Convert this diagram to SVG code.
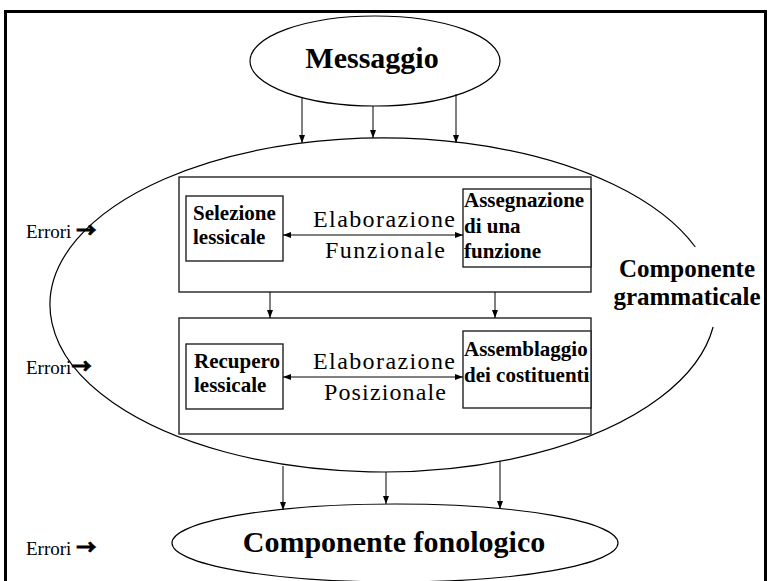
<svg xmlns="http://www.w3.org/2000/svg" width="769" height="581" viewBox="0 0 769 581">
<defs>
<style>
.t{font-family:"Liberation Serif","Times New Roman",serif;fill:#000}
.b{font-weight:bold}
.shape{fill:none;stroke:#000;stroke-width:1.2}
.box{fill:#fff;stroke:#222;stroke-width:1.4}
.conn{fill:none;stroke:#000;stroke-width:1}
.arr{font-family:"Noto Sans CJK SC","DejaVu Sans",sans-serif;font-weight:bold;stroke:#000;stroke-width:0.9}
</style>
<marker id="ah" markerWidth="8" markerHeight="6" refX="8" refY="3" orient="auto-start-reverse" markerUnits="userSpaceOnUse">
<path d="M0,0 L8,3 L0,6 z" fill="#000"/>
</marker>
</defs>
<rect x="0" y="0" width="769" height="581" fill="#fff"/>
<rect x="5.5" y="11.5" width="760" height="580" fill="none" stroke="#000" stroke-width="3"/>

<g id="messaggio">
<ellipse class="shape" cx="375" cy="61" rx="125" ry="45"/>
<text class="t b" x="372" y="68" font-size="30" text-anchor="middle">Messaggio</text>
</g>

<g id="componente-grammaticale">
<path class="shape" d="M 713.1 327 A 333 167 0 1 1 695.3 247"/>
<text class="t b" x="687" y="277" font-size="25" text-anchor="middle">Componente</text>
<text class="t b" x="687" y="305" font-size="25" text-anchor="middle">grammaticale</text>
</g>

<g id="elaborazione-funzionale">
<rect class="box" x="179" y="177" width="412" height="115"/>
<text class="t" x="384" y="227" font-size="24" text-anchor="middle" textLength="142" lengthAdjust="spacing">Elaborazione</text>
<text class="t" x="385" y="258" font-size="24" text-anchor="middle" textLength="120" lengthAdjust="spacing">Funzionale</text>
</g>

<g id="selezione-lessicale">
<rect class="box" x="186" y="196" width="97" height="65"/>
<text class="t b" x="193" y="220" font-size="21">Selezione</text>
<text class="t b" x="193" y="244" font-size="21">lessicale</text>
</g>

<g id="assegnazione">
<rect class="box" x="463" y="189" width="128" height="78"/>
<text class="t b" x="464" y="207" font-size="21">Assegnazione</text>
<text class="t b" x="464" y="233" font-size="21">di una</text>
<text class="t b" x="464" y="258" font-size="21">funzione</text>
</g>

<g id="elaborazione-posizionale">
<rect class="box" x="179" y="318" width="412" height="116"/>
<text class="t" x="384" y="369" font-size="24" text-anchor="middle" textLength="142" lengthAdjust="spacing">Elaborazione</text>
<text class="t" x="385" y="400" font-size="24" text-anchor="middle" textLength="122" lengthAdjust="spacing">Posizionale</text>
</g>

<g id="recupero-lessicale">
<rect class="box" x="186" y="344" width="97" height="65"/>
<text class="t b" x="194" y="368" font-size="21">Recupero</text>
<text class="t b" x="194" y="392" font-size="21">lessicale</text>
</g>

<g id="assemblaggio">
<rect class="box" x="463" y="331" width="128" height="77"/>
<text class="t b" x="464" y="356" font-size="21">Assemblaggio</text>
<text class="t b" x="464" y="382" font-size="21">dei costituenti</text>
</g>

<g id="componente-fonologico">
<ellipse class="shape" cx="395" cy="543" rx="223" ry="39"/>
<text class="t b" x="394" y="552" font-size="30" text-anchor="middle">Componente fonologico</text>
</g>

<g id="errori">
<text class="t" x="26" y="238" font-size="19">Errori <tspan class="arr" font-size="20">→</tspan></text>
<text class="t" x="26" y="374" font-size="19">Errori<tspan class="arr" font-size="20">→</tspan></text>
<text class="t" x="26" y="555" font-size="19">Errori <tspan class="arr" font-size="20">→</tspan></text>
</g>

<g id="connectors">
<line class="conn" x1="302" y1="98" x2="302" y2="143" marker-end="url(#ah)"/>
<line class="conn" x1="373" y1="106" x2="373" y2="138" marker-end="url(#ah)"/>
<line class="conn" x1="456" y1="94" x2="456" y2="143" marker-end="url(#ah)"/>
<line class="conn" x1="283" y1="235" x2="463" y2="235" marker-start="url(#ah)" marker-end="url(#ah)"/>
<line class="conn" x1="283" y1="377" x2="463" y2="377" marker-start="url(#ah)" marker-end="url(#ah)"/>
<line class="conn" x1="270" y1="292" x2="270" y2="318" marker-end="url(#ah)"/>
<line class="conn" x1="495" y1="292" x2="495" y2="318" marker-end="url(#ah)"/>
<line class="conn" x1="283" y1="466" x2="283" y2="510" marker-end="url(#ah)"/>
<line class="conn" x1="386" y1="472" x2="386" y2="504" marker-end="url(#ah)"/>
<line class="conn" x1="500" y1="461" x2="500" y2="509" marker-end="url(#ah)"/>
</g>
</svg>
